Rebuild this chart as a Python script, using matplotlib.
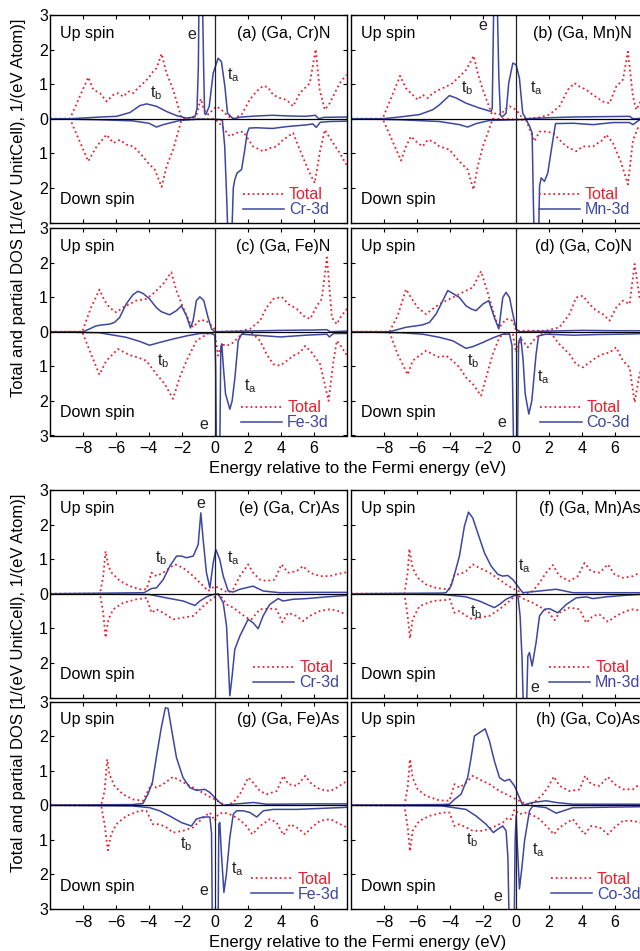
import matplotlib
matplotlib.use('Agg')
import matplotlib.pyplot as plt
from matplotlib.ticker import FuncFormatter

plt.rcParams['font.family'] = ['Liberation Sans', 'DejaVu Sans']

# (a) (Ga, Cr)N
a_tu_e = [-10, -8.79, -7.68, -7.37, -6.97, -6.57, -6.16, -5.86, -5.56, -5.25, -4.95, -4.65, -4.34, -4.04, -3.74, -3.54, -3.23, -2.93, -2.53, -2.02, -1.52, -1.11, -0.85, -0.67, -0.40, 0.10, 0.40, 0.81, 1.11, 1.62, 2.12, 2.53, 2.93, 3.23, 3.54, 3.94, 4.34, 4.75, 5.15, 5.45, 5.76, 6.12, 6.36, 6.67, 6.97, 7.27, 7.58, 7.98]
a_tu = [0, 0, 1.20, 0.84, 0.74, 0.50, 0.69, 0.74, 0.64, 0.79, 0.74, 0.90, 1.03, 1.17, 1.37, 1.46, 1.88, 1.32, 0.84, 0.02, 0, 0.12, 0.58, 0.26, 0.12, 0.36, 0.26, 0.07, 0, 0.12, 0.55, 0.79, 0.95, 0.91, 0.69, 0.60, 0.55, 0.36, 0.74, 0.88, 1.03, 2.01, 0.84, 0.26, 0.45, 0.74, 1.03, 1.27]
a_td_e = [-10, -8.79, -7.68, -7.17, -6.57, -6.16, -5.76, -5.35, -4.95, -4.55, -4.04, -3.64, -3.23, -2.93, -2.53, -2.02, -0.10, 0.20, 0.51, 0.91, 1.31, 1.72, 2.32, 2.93, 3.33, 3.74, 4.14, 4.75, 5.15, 5.66, 6.06, 6.36, 6.67, 7.17, 7.58, 7.98]
a_td = [0, 0, 1.23, 0.80, 0.46, 0.70, 0.61, 0.75, 0.80, 0.99, 1.28, 1.47, 1.97, 1.38, 0.89, 0.03, 0, 0.08, 0.27, 0.51, 0.41, 0.37, 0.80, 0.94, 0.85, 0.80, 0.61, 0.41, 0.89, 1.47, 1.86, 0.99, 0.32, 0.70, 0.99, 1.33]
a_pu_e = [-10, -8.8, -6.97, -5.96, -5.15, -4.55, -4.14, -3.54, -2.93, -2.32, -1.72, -1.21, -1.08, -1.0, -0.96, -0.75, -0.68, -0.62, -0.55, -0.34, -0.10, 0.20, 0.40, 0.61, 0.77, 1.11, 1.6, 2.5, 3.5, 4.5, 5.5, 6.1, 6.3, 6.6, 8]
a_pu = [0, 0, 0.05, 0.07, 0.18, 0.38, 0.43, 0.36, 0.21, 0.09, 0.02, 0.05, 0.3, 1.5, 3.5, 3.5, 1.5, 0.15, 0.12, 0.36, 1.32, 1.75, 1.65, 0.93, 0.16, 0, 0.05, 0.08, 0.10, 0.08, 0.07, 0.10, 0, 0.04, 0.05]
a_pd_e = [-10, -7, -5, -4, -3.54, -3.13, -2.12, -1, 0.3, 0.46, 0.6, 0.72, 0.8, 1.02, 1.12, 1.21, 1.35, 1.62, 1.82, 1.96, 2.08, 2.5, 3.5, 4.5, 5.5, 5.95, 6.15, 6.4, 7, 8]
a_pd = [0, 0.03, 0.06, 0.13, 0.24, 0.17, 0.05, 0.01, 0.02, 0.05, 0.8, 2.3, 3.5, 3.5, 2.0, 1.76, 1.57, 1.47, 0.89, 0.41, 0.27, 0.26, 0.28, 0.22, 0.18, 0.15, 0.25, 0.10, 0.08, 0.07]

# (b) (Ga, Mn)N
b_tu_e = [-10, -8.10, -7.04, -6.68, -6.38, -5.97, -5.67, -5.36, -5.06, -4.66, -4.25, -3.85, -3.44, -3.04, -2.57, -2.33, -2.02, -1.72, -1.46, -1.21, -0.91, -0.71, -0.40, 0, 0.30, 0.61, 1.42, 2.02, 2.63, 3.14, 3.54, 3.85, 4.25, 4.66, 5.26, 5.67, 6.07, 6.48, 6.78, 7.09, 7.29, 7.49, 8.0]
b_tu = [0, 0, 1.24, 0.88, 0.74, 0.55, 0.69, 0.60, 0.74, 0.84, 0.93, 1.03, 1.22, 1.41, 1.82, 1.32, 0.84, 0.45, 0.12, 0.16, 0.12, 0.26, 0.36, 0.26, 0.07, 0, 0.04, 0.12, 0.36, 0.84, 1.03, 0.93, 0.84, 0.69, 0.50, 0.45, 0.93, 1.13, 1.94, 0.64, 0.26, 0.45, 0.8]
b_td_e = [-10, -8.10, -6.98, -6.68, -6.38, -5.97, -5.67, -5.36, -5.06, -4.66, -4.05, -3.64, -3.24, -2.94, -2.59, -2.33, -2.02, -1.72, -1.42, 0.6, 0.91, 1.11, 1.42, 1.82, 2.23, 2.63, 3.04, 3.64, 4.05, 4.66, 5.26, 5.47, 5.87, 6.38, 6.78, 7.09, 7.39, 8.0]
b_td = [0, 0, 1.21, 0.80, 0.51, 0.70, 0.80, 0.61, 0.65, 0.80, 0.89, 1.13, 1.33, 1.47, 2.05, 1.38, 0.80, 0.41, 0, 0.03, 0.41, 0.65, 0.37, 0.37, 0.41, 0.61, 0.80, 0.94, 0.80, 0.80, 0.61, 0.46, 0.70, 1.28, 1.90, 0.61, 0.27, 0.6]
b_pu_e = [-10, -8.1, -7.09, -5.87, -5.06, -4.66, -4.05, -3.64, -3.04, -2.23, -1.52, -1.45, -1.4, -1.35, -1.15, -1.05, -0.95, -0.85, -0.61, -0.45, -0.20, 0, 0.20, 0.40, 0.61, 2, 3.44, 5, 6.88, 7.09, 8]
b_pu = [0, 0, 0.05, 0.12, 0.26, 0.40, 0.67, 0.60, 0.45, 0.31, 0.21, 0.3, 2.0, 3.5, 3.5, 1.2, 0.1, 0.05, 0.16, 1.03, 1.61, 1.56, 1.17, 0.16, 0, 0.03, 0.05, 0.06, 0.07, 0, 0.02]
b_pd_e = [-10, -7, -4.66, -3.44, -2.94, -2.43, -1.62, 0.6, 0.8, 0.97, 1.05, 1.1, 1.36, 1.42, 1.52, 1.72, 1.92, 2.23, 2.39, 3.44, 4.66, 5.87, 6.88, 7.09, 7.49, 8]
b_pd = [0, 0.03, 0.08, 0.17, 0.24, 0.14, 0.05, 0.02, 0.2, 0.41, 2.5, 3.5, 3.5, 1.95, 1.71, 1.81, 1.57, 0.61, 0.14, 0.13, 0.17, 0.11, 0.11, 0.17, 0.03, 0.05]

# (c) (Ga, Fe)N
c_tu_e = [-10, -8.05, -7.51, -7.00, -6.69, -6.39, -5.98, -5.58, -5.17, -4.77, -4.16, -3.65, -3.14, -2.64, -2.33, -1.93, -1.52, -1.32, -0.91, -0.51, -0.10, 0.10, 1.5, 2.13, 2.74, 3.14, 3.55, 4.06, 4.46, 4.97, 5.38, 5.78, 6.19, 6.49, 6.80, 7.10, 7.40, 7.61, 8.01]
c_tu = [0, 0, 0.70, 1.22, 0.90, 0.70, 0.56, 0.70, 0.80, 0.90, 0.95, 1.14, 1.38, 1.72, 1.19, 0.70, 0.27, 0.13, 0.34, 0.32, 0.13, 0, 0.02, 0.08, 0.32, 0.70, 0.95, 1.01, 0.80, 0.66, 0.46, 0.37, 0.75, 0.95, 2.15, 0.41, 0.22, 0.41, 0.66]
c_td_e = [-10, -8.05, -7.51, -7.00, -6.59, -6.19, -5.88, -5.48, -5.07, -4.67, -4.16, -3.55, -3.04, -2.54, -2.13, -1.72, -1.12, -0.41, 0, 0.20, 0.41, 0.71, 1.12, 1.52, 1.93, 2.33, 2.74, 3.14, 3.55, 3.96, 4.36, 4.77, 5.17, 5.48, 5.88, 6.39, 6.90, 7.20, 7.40, 7.71, 8.01]
c_td = [0, 0, 0.65, 1.24, 0.84, 0.65, 0.50, 0.60, 0.69, 0.74, 0.84, 1.22, 1.51, 1.94, 1.32, 0.84, 0.26, 0.05, 0.07, 0.69, 0.36, 0.41, 0.31, 0.12, 0, 0.07, 0.26, 0.65, 0.94, 0.98, 0.84, 0.69, 0.60, 0.41, 0.60, 0.94, 2.00, 0.84, 0.26, 0.45, 0.69]
c_pu_e = [-10, -8, -7.61, -7.20, -6.80, -6.39, -6.09, -5.78, -5.38, -4.97, -4.67, -4.36, -3.96, -3.55, -3.25, -2.74, -2.33, -2.03, -1.72, -1.48, -1.32, -1.12, -0.91, -0.67, -0.41, -0.20, 0, 2, 4, 6, 6.8, 7, 8]
c_pu = [0, 0, 0.08, 0.17, 0.20, 0.22, 0.27, 0.41, 0.80, 1.07, 1.17, 1.11, 0.95, 0.70, 0.58, 0.49, 0.61, 0.75, 0.46, 0.11, 0.32, 0.90, 1.01, 0.90, 0.41, 0.08, 0, 0.02, 0.04, 0.05, 0.06, 0, 0.02]
c_pd_e = [-10, -7, -5.38, -4.56, -3.96, -3.35, -2.54, -1.72, -0.91, -0.2, 0, 0.05, 0.1, 0.3, 0.36, 0.42, 0.5, 0.65, 0.91, 1.05, 1.22, 1.42, 1.62, 2.5, 4, 5.5, 6.8, 6.95, 7.2, 8]
c_pd = [0, 0.03, 0.16, 0.28, 0.39, 0.31, 0.21, 0.12, 0.05, 0.05, 0.1, 1.0, 3.5, 3.5, 0.5, 0.35, 0.9, 1.8, 2.24, 2.0, 1.32, 0.26, 0.07, 0.10, 0.15, 0.10, 0.07, 0.15, 0.05, 0.05]

# (d) (Ga, Co)N
d_tu_e = [-10, -7.69, -7.19, -6.68, -6.38, -5.97, -5.47, -5.06, -4.66, -4.25, -3.85, -3.44, -3.04, -2.63, -2.13, -1.82, -1.52, -1.21, -1.01, -0.61, -0.20, 0, 1.82, 2.63, 3.24, 3.64, 4.05, 4.45, 4.86, 5.26, 5.67, 6.07, 6.48, 6.88, 7.19, 7.49, 8]
d_tu = [0, 0, 0.46, 1.23, 0.99, 0.70, 0.51, 0.66, 0.80, 0.90, 0.99, 1.09, 1.19, 1.28, 1.75, 1.28, 0.80, 0.32, 0.13, 0.37, 0.32, 0.03, 0.03, 0.13, 0.51, 0.99, 1.04, 0.80, 0.61, 0.51, 0.32, 0.70, 0.90, 0.80, 1.96, 0.99, 0.5]
d_td_e = [-10, -7.69, -7.19, -6.58, -6.28, -5.87, -5.47, -5.06, -4.66, -4.25, -3.85, -3.44, -3.04, -2.63, -2.13, -1.82, -1.42, -1.01, -0.61, -0.20, 0, 0.30, 0.71, 1.21, 1.82, 2.23, 2.63, 3.24, 3.64, 4.05, 4.45, 4.86, 5.26, 5.67, 6.07, 6.48, 6.88, 7.19, 7.49, 8]
d_td = [0, 0, 0.65, 1.24, 0.84, 0.69, 0.55, 0.65, 0.74, 0.69, 0.84, 1.03, 1.32, 1.51, 1.85, 1.32, 0.65, 0.16, 0.02, 0.07, 0.60, 0.21, 0.45, 0.16, 0, 0.12, 0.36, 0.65, 0.94, 1.03, 0.89, 0.74, 0.65, 0.60, 0.45, 0.84, 1.03, 2.04, 1.22, 0.6]
d_pu_e = [-10, -7.69, -7.29, -6.68, -6.07, -5.67, -5.26, -4.86, -4.45, -4.15, -3.85, -3.44, -3.04, -2.73, -2.43, -2.02, -1.66, -1.32, -1.05, -0.81, -0.61, -0.40, -0.20, 0, 0.20, 2, 4, 6, 7.5, 8]
d_pu = [0, 0, 0.05, 0.13, 0.17, 0.20, 0.27, 0.51, 0.90, 1.19, 1.11, 0.99, 0.75, 0.66, 0.61, 0.80, 0.90, 0.41, 0.08, 0.99, 1.14, 0.99, 0.51, 0.08, 0, 0.02, 0.04, 0.03, 0.03, 0.02]
d_pd_e = [-10, -7, -5.67, -4.66, -3.85, -3.04, -2.63, -2.02, -1.42, -0.81, -0.4, -0.25, -0.15, 0.08, 0.15, 0.28, 0.42, 0.55, 0.77, 0.95, 1.21, 1.36, 1.8, 3.5, 5, 6.5, 8]
d_pd = [0, 0.03, 0.07, 0.16, 0.26, 0.48, 0.43, 0.31, 0.18, 0.07, 0.07, 0.4, 3.5, 3.5, 0.3, 0.15, 0.8, 1.8, 2.38, 2.0, 0.65, 0.12, 0.07, 0.10, 0.08, 0.07, 0.05]

# (e) (Ga, Cr)As
e_tu_e = [-10, -6.97, -6.77, -6.63, -6.46, -6.26, -5.76, -5.15, -4.55, -4.14, -3.84, -3.54, -3.13, -2.73, -2.42, -1.92, -1.31, -0.91, -0.40, 0, 0.40, 0.81, 1.11, 1.52, 2.02, 2.32, 2.73, 3.13, 3.64, 4.04, 4.44, 4.95, 5.35, 5.76, 6.36, 6.97, 7.37, 7.98]
e_tu = [0, 0, 0.51, 1.23, 0.80, 0.61, 0.37, 0.22, 0.13, 0.13, 0.61, 0.51, 0.61, 0.75, 0.85, 0.75, 0.51, 0.32, 0.08, 0.22, 0.13, 0.03, 0.13, 0.51, 0.85, 0.61, 0.41, 0.37, 0.41, 0.85, 0.61, 0.65, 0.80, 0.61, 0.51, 0.51, 0.56, 0.62]
e_td_e = [-10, -6.97, -6.77, -6.63, -6.46, -6.16, -5.56, -4.75, -4.14, -3.84, -3.54, -3.13, -2.53, -1.92, -1.31, -0.71, -0.10, 0.30, 0.71, 1.11, 1.52, 1.92, 2.22, 2.73, 3.33, 3.74, 4.10, 4.44, 4.95, 5.35, 5.76, 6.36, 6.97, 7.37, 7.98]
e_td = [0, 0, 0.55, 1.27, 0.74, 0.45, 0.26, 0.16, 0.12, 0.55, 0.45, 0.55, 0.74, 0.69, 0.64, 0.36, 0.12, 0.02, 0.31, 0.40, 0.55, 0.69, 0.74, 0.45, 0.43, 0.45, 0.82, 0.55, 0.64, 0.79, 0.64, 0.50, 0.45, 0.48, 0.60]
e_pu_e = [-10, -4.3, -3.84, -3.54, -3.13, -2.73, -2.32, -2.02, -1.72, -1.31, -1.01, -0.85, -0.71, -0.51, -0.30, -0.10, 0.06, 0.30, 0.51, 0.81, 1.11, 1.52, 2.32, 2.93, 3.94, 6, 8]
e_pu = [0, 0.03, 0.15, 0.17, 0.41, 0.80, 1.09, 1.09, 1.04, 1.09, 1.42, 2.34, 1.57, 0.61, 0.17, 0.89, 1.28, 0.99, 0.51, 0.08, 0.05, 0.13, 0.22, 0.08, 0.03, 0.04, 0.04]
e_pd_e = [-10, -4, -2.93, -1.92, -1.21, -0.91, -0.51, -0.10, 0.20, 0.51, 0.71, 0.91, 1.05, 1.21, 1.52, 2.02, 2.32, 2.63, 2.93, 3.33, 3.84, 4.14, 4.75, 5.56, 6.77, 7.98]
e_pd = [0, 0.02, 0.12, 0.21, 0.34, 0.21, 0.09, 0.02, 0, 0.26, 0.93, 2.95, 2.38, 1.61, 1.22, 0.74, 0.84, 1.01, 0.64, 0.31, 0.14, 0.21, 0.16, 0.14, 0.09, 0.05]

# (f) (Ga, Mn)As
f_tu_e = [-10, -6.78, -6.58, -6.48, -6.28, -5.97, -5.47, -4.86, -4.25, -4.05, -3.74, -3.44, -3.04, -2.63, -2.23, -1.62, -1.01, -0.61, 0, 0.61, 1.01, 1.42, 1.82, 2.23, 2.63, 3.24, 3.74, 4.15, 4.55, 5.06, 5.57, 5.97, 6.48, 7.09, 7.49, 8]
f_tu = [0, 0, 0.61, 1.30, 0.75, 0.46, 0.27, 0.17, 0.13, 0.13, 0.56, 0.56, 0.65, 0.85, 0.75, 0.61, 0.41, 0.27, 0.10, 0, 0.08, 0.32, 0.61, 0.83, 0.51, 0.37, 0.51, 0.89, 0.65, 0.61, 0.85, 0.56, 0.46, 0.51, 0.61, 0.65]
f_td_e = [-10, -6.78, -6.58, -6.44, -6.28, -5.87, -5.06, -4.25, -4.01, -3.74, -3.44, -3.04, -2.63, -2.23, -1.62, -1.01, -0.40, 0, 0.51, 1.01, 1.52, 1.92, 2.33, 2.63, 3.24, 3.85, 4.25, 4.66, 5.06, 5.57, 6.07, 6.68, 7.09, 7.49, 8]
f_td = [0, 0, 0.64, 1.29, 0.74, 0.36, 0.21, 0.18, 0.16, 0.55, 0.50, 0.64, 0.74, 0.69, 0.64, 0.45, 0.21, 0.02, 0.16, 0.26, 0.40, 0.50, 0.76, 0.55, 0.40, 0.45, 0.84, 0.64, 0.60, 0.81, 0.64, 0.50, 0.45, 0.48, 0.55]
f_pu_e = [-10, -4.5, -4.25, -3.95, -3.74, -3.44, -3.14, -2.89, -2.63, -2.33, -1.92, -1.52, -1.11, -0.81, -0.51, -0.20, 0.10, 0.40, 1.42, 2.43, 3.44, 6, 8]
f_pu = [0, 0.02, 0.03, 0.22, 0.56, 1.09, 1.95, 2.36, 2.19, 1.76, 1.18, 0.80, 0.56, 0.51, 0.53, 0.41, 0.22, 0.03, 0.08, 0.13, 0.03, 0.03, 0.03]
f_pd_e = [-10, -4.5, -3.04, -2.23, -1.62, -1.32, -1.01, -0.61, -0.20, 0.10, 0.24, 0.36, 0.45, 0.62, 0.71, 0.81, 0.97, 1.21, 1.42, 1.72, 2.02, 2.53, 3.04, 3.64, 4.25, 4.66, 5.47, 6.48, 7.49, 8]
f_pd = [0, 0.02, 0.09, 0.21, 0.34, 0.40, 0.31, 0.16, 0.07, 0.02, 0.64, 1.89, 3.5, 3.5, 1.80, 1.70, 2.09, 1.41, 0.64, 0.45, 0.43, 0.55, 0.31, 0.12, 0.09, 0.14, 0.09, 0.05, 0.02, 0.02]

# (g) (Ga, Fe)As
g_tu_e = [-10, -6.90, -6.69, -6.53, -6.39, -6.09, -5.58, -4.97, -4.36, -3.85, -3.55, -3.14, -2.54, -2.13, -1.52, -0.91, -0.41, 0, 0.30, 0.71, 1.12, 1.52, 2.03, 2.33, 2.74, 3.14, 3.75, 4.16, 4.46, 4.97, 5.48, 5.88, 6.39, 7.00, 7.40, 8.01]
g_tu = [0, 0, 0.41, 1.33, 0.89, 0.56, 0.32, 0.17, 0.13, 0.61, 0.51, 0.61, 0.82, 0.72, 0.56, 0.41, 0.27, 0.17, 0.08, 0, 0.08, 0.32, 0.80, 0.65, 0.41, 0.32, 0.41, 0.85, 0.61, 0.56, 0.85, 0.61, 0.46, 0.41, 0.51, 0.70]
g_td_e = [-10, -6.9, -6.69, -6.49, -6.29, -5.98, -5.38, -4.56, -4.16, -3.75, -3.35, -2.94, -2.54, -1.93, -1.32, -0.71, -0.30, 0, 0.20, 0.51, 0.91, 1.32, 1.83, 2.27, 2.74, 3.35, 3.75, 4.16, 4.56, 4.97, 5.48, 5.88, 6.39, 7.00, 7.40, 8.01]
g_td = [0, 0, 0.55, 1.30, 0.84, 0.55, 0.31, 0.16, 0.16, 0.55, 0.55, 0.64, 0.79, 0.74, 0.64, 0.36, 0.21, 0.45, 0.26, 0.21, 0.26, 0.36, 0.55, 0.84, 0.60, 0.40, 0.50, 0.86, 0.55, 0.64, 0.84, 0.64, 0.45, 0.40, 0.50, 0.64]
g_pu_e = [-10, -5, -4.36, -4.06, -3.79, -3.55, -3.25, -3.00, -2.84, -2.64, -2.33, -1.93, -1.52, -1.12, -0.61, -0.30, 0, 0.30, 0.51, 1.12, 2.33, 3.14, 6, 8]
g_pu = [0, 0.02, 0.05, 0.32, 0.65, 1.38, 2.24, 2.82, 2.80, 2.24, 1.38, 0.80, 0.51, 0.43, 0.46, 0.37, 0.22, 0.08, 0, 0.03, 0.08, 0.03, 0.04, 0.04]
g_pd_e = [-10, -5, -3.96, -3.35, -2.74, -2.03, -1.42, -1.12, -0.71, -0.30, -0.2, -0.15, 0.2, 0.24, 0.3, 0.4, 0.55, 0.7, 0.91, 1.12, 1.32, 1.72, 2.13, 2.54, 2.94, 3.55, 5, 6, 8]
g_pd = [0, 0.02, 0.07, 0.16, 0.31, 0.50, 0.60, 0.40, 0.34, 0.34, 0.8, 3.5, 3.5, 0.55, 0.5, 1.4, 2.52, 2.0, 0.93, 0.26, 0.16, 0.16, 0.21, 0.34, 0.16, 0.12, 0.12, 0.10, 0.06]

# (h) (Ga, Co)As
h_tu_e = [-10, -6.78, -6.58, -6.44, -6.28, -5.97, -5.47, -4.66, -4.05, -3.74, -3.44, -3.04, -2.63, -2.23, -1.62, -1.01, -0.40, 0, 0.40, 0.81, 1.21, 1.62, 1.92, 2.29, 2.63, 3.24, 3.85, 4.19, 4.55, 5.06, 5.57, 5.97, 6.48, 7.09, 7.49, 8]
h_tu = [0, 0, 0.51, 1.33, 0.80, 0.46, 0.27, 0.14, 0.13, 0.61, 0.51, 0.65, 0.85, 0.75, 0.61, 0.41, 0.27, 0.17, 0.08, 0, 0.13, 0.32, 0.51, 0.83, 0.56, 0.41, 0.46, 0.85, 0.61, 0.56, 0.82, 0.61, 0.46, 0.46, 0.61, 0.65]
h_td_e = [-10, -6.78, -6.58, -6.44, -6.28, -5.87, -5.26, -4.45, -4.05, -3.74, -3.44, -3.04, -2.63, -2.02, -1.42, -0.81, -0.51, -0.30, -0.10, 0.20, 0.51, 0.91, 1.42, 1.92, 2.29, 2.63, 3.44, 4.15, 4.55, 5.06, 5.57, 5.97, 6.48, 7.09, 7.49, 8]
h_td = [0, 0, 0.64, 1.33, 0.74, 0.45, 0.31, 0.21, 0.21, 0.60, 0.55, 0.64, 0.74, 0.74, 0.64, 0.50, 0.36, 0.40, 0.12, 0.26, 0.21, 0.26, 0.40, 0.64, 0.84, 0.64, 0.40, 0.84, 0.60, 0.64, 0.84, 0.64, 0.45, 0.45, 0.50, 0.55]
h_pu_e = [-10, -4.5, -4.05, -3.74, -3.34, -2.94, -2.73, -2.53, -2.23, -1.88, -1.62, -1.32, -1.01, -0.71, -0.40, -0.10, 0.20, 0.40, 1.01, 1.82, 2.43, 3.44, 6, 8]
h_pu = [0, 0.02, 0.03, 0.17, 0.32, 0.80, 1.38, 2.00, 2.10, 2.21, 1.86, 1.28, 0.80, 0.70, 0.75, 0.56, 0.22, 0, 0.08, 0.13, 0.08, 0.03, 0.03, 0.03]
h_pd_e = [-10, -4.5, -3.04, -2.43, -1.82, -1.38, -1.11, -0.81, -0.61, -0.5, -0.42, -0.12, -0.06, 0.0, 0.08, 0.20, 0.35, 0.51, 0.81, 1.01, 1.82, 2.43, 3.44, 5, 8]
h_pd = [0, 0.02, 0.12, 0.31, 0.55, 0.79, 0.69, 0.60, 0.74, 1.5, 3.5, 3.5, 1.0, 0.3, 1.2, 2.42, 1.8, 1.03, 0.16, 0.02, 0.07, 0.23, 0.07, 0.06, 0.04]

titles = ['(a) (Ga, Cr)N', '(b) (Ga, Mn)N', '(c) (Ga, Fe)N', '(d) (Ga, Co)N',
          '(e) (Ga, Cr)As', '(f) (Ga, Mn)As', '(g) (Ga, Fe)As', '(h) (Ga, Co)As']
orbitals = ['Cr-3d', 'Mn-3d', 'Fe-3d', 'Co-3d', 'Cr-3d', 'Mn-3d', 'Fe-3d', 'Co-3d']
xticks = [-8, -6, -4, -2, 0, 2, 4, 6]
yticks = [-3, -2, -1, 0, 1, 2, 3]

curves = [
    (a_tu_e, a_tu, a_td_e, a_td, a_pu_e, a_pu, a_pd_e, a_pd),
    (b_tu_e, b_tu, b_td_e, b_td, b_pu_e, b_pu, b_pd_e, b_pd),
    (c_tu_e, c_tu, c_td_e, c_td, c_pu_e, c_pu, c_pd_e, c_pd),
    (d_tu_e, d_tu, d_td_e, d_td, d_pu_e, d_pu, d_pd_e, d_pd),
    (e_tu_e, e_tu, e_td_e, e_td, e_pu_e, e_pu, e_pd_e, e_pd),
    (f_tu_e, f_tu, f_td_e, f_td, f_pu_e, f_pu, f_pd_e, f_pd),
    (g_tu_e, g_tu, g_td_e, g_td, g_pu_e, g_pu, g_pd_e, g_pd),
    (h_tu_e, h_tu, h_td_e, h_td, h_pu_e, h_pu, h_pd_e, h_pd),
]

# e / t_a / t_b label spots (energy, dos)
marks = [
    [('e', -1.37, 2.44), ('t_a', 1.1, 1.27), ('t_b', -3.54, 0.74)],
    [('e', -2.02, 2.71), ('t_a', 1.21, 0.88), ('t_b', -2.94, 0.88)],
    [('e', -0.67, -2.69), ('t_a', 2.13, -1.56), ('t_b', -3.14, -0.84)],
    [('e', -0.87, -2.62), ('t_a', 1.66, -1.32), ('t_b', -2.63, -0.84)],
    [('e', -0.83, 2.6), ('t_a', 1.1, 1.03), ('t_b', -3.23, 1.03)],
    [('e', 1.11, -2.7), ('t_a', 0.5, 0.8), ('t_b', -2.43, -0.53)],
    [('e', -0.67, -2.47), ('t_a', 1.36, -1.85), ('t_b', -1.72, -1.12)],
    [('e', -1.11, -2.65), ('t_a', 1.36, -1.31), ('t_b', -2.67, -1.02)],
]

red = '#e8202e'
blue = '#3c46a0'
W, H = 640, 951
fs = 11.5

def abs_label(v, p):
    return '%g' % abs(v)

def abs_label_top(v, p):
    # upper panel of a pair: its bottom 3 is shared with the panel below
    if v <= -3:
        return ''
    return '%g' % abs(v)

fig = plt.figure(figsize=(6.4, 9.51), dpi=100)
col_x = [50, 351.3]
row_top = [15, 228, 490, 701.5]
pw, ph = 296.7, 207.5

for i in range(8):
    r, c = i // 2, i % 2
    lower = r >= 2
    ax = fig.add_axes([col_x[c] / W, 1 - (row_top[r] + ph) / H, pw / W, ph / H])
    tu_e, tu, td_e, td, pu_e, pu, pd_e, pd = curves[i]
    l1, = ax.plot(tu_e, tu, ':', color=red, lw=1.3, label='Total')
    ax.plot(td_e, [-v for v in td], ':', color=red, lw=1.3)
    l2, = ax.plot(pu_e, pu, '-', color=blue, lw=1.1, label=orbitals[i])
    ax.plot(pd_e, [-v for v in pd], '-', color=blue, lw=1.1)
    ax.axhline(0, color='k', lw=0.9)
    ax.axvline(0, color='#222222', lw=0.9)
    ax.set_xlim(-10, 8)
    ax.set_ylim(-3, 3)
    ax.set_xticks(xticks)
    ax.set_yticks(yticks)
    if r in (0, 2):
        ax.yaxis.set_major_formatter(FuncFormatter(abs_label_top))
    else:
        ax.yaxis.set_major_formatter(FuncFormatter(abs_label))
    ax.tick_params(direction='in', top=True, right=True, length=3, width=0.8,
                   labelsize=fs)
    ax.tick_params(axis='y', pad=1.5)
    ax.tick_params(axis='x', pad=4)
    if c == 1:
        ax.tick_params(labelleft=False)
    if r in (0, 2):
        ax.tick_params(labelbottom=False)
    for s in ax.spines.values():
        s.set_linewidth(1.0)
    ax.text(0.034, 0.913, 'Up spin', transform=ax.transAxes, fontsize=fs,
            va='center', ha='left')
    ax.text(0.034, 0.11, 'Down spin', transform=ax.transAxes, fontsize=fs,
            va='center', ha='left')
    tx = 0.975 if lower else 0.945
    ax.text(tx, 0.913, titles[i], transform=ax.transAxes, fontsize=fs,
            va='center', ha='right')
    for name, ex, ey in marks[i]:
        txt = 'e' if name == 'e' else r'$\mathregular{%s}$' % name
        ax.text(ex, ey, txt, fontsize=fs, ha='center', va='center', color='#222222')
    lx = 0.975 if lower else 0.94
    ly = 0.035 if lower else 0.025
    ax.legend(handles=[l1, l2], loc='lower right', bbox_to_anchor=(lx, ly),
              frameon=False, fontsize=fs, labelcolor='linecolor', borderpad=0,
              borderaxespad=0, handlelength=2.6, handletextpad=0.3, labelspacing=0.0)

xlab = 'Energy relative to the Fermi energy (eV)'
ylab = 'Total and partial DOS [1/(eV UnitCell), 1/(eV Atom)]'
fig.text(358 / W, 1 - 468 / H, xlab, fontsize=12, ha='center', va='center')
fig.text(358 / W, 1 - 942 / H, xlab, fontsize=12, ha='center', va='center')
fig.text(19 / W, 1 - 208 / H, ylab, fontsize=12, ha='center', va='center', rotation=90)
fig.text(19 / W, 1 - 683 / H, ylab, fontsize=12, ha='center', va='center', rotation=90)

fig.savefig('out.png', dpi=100)
